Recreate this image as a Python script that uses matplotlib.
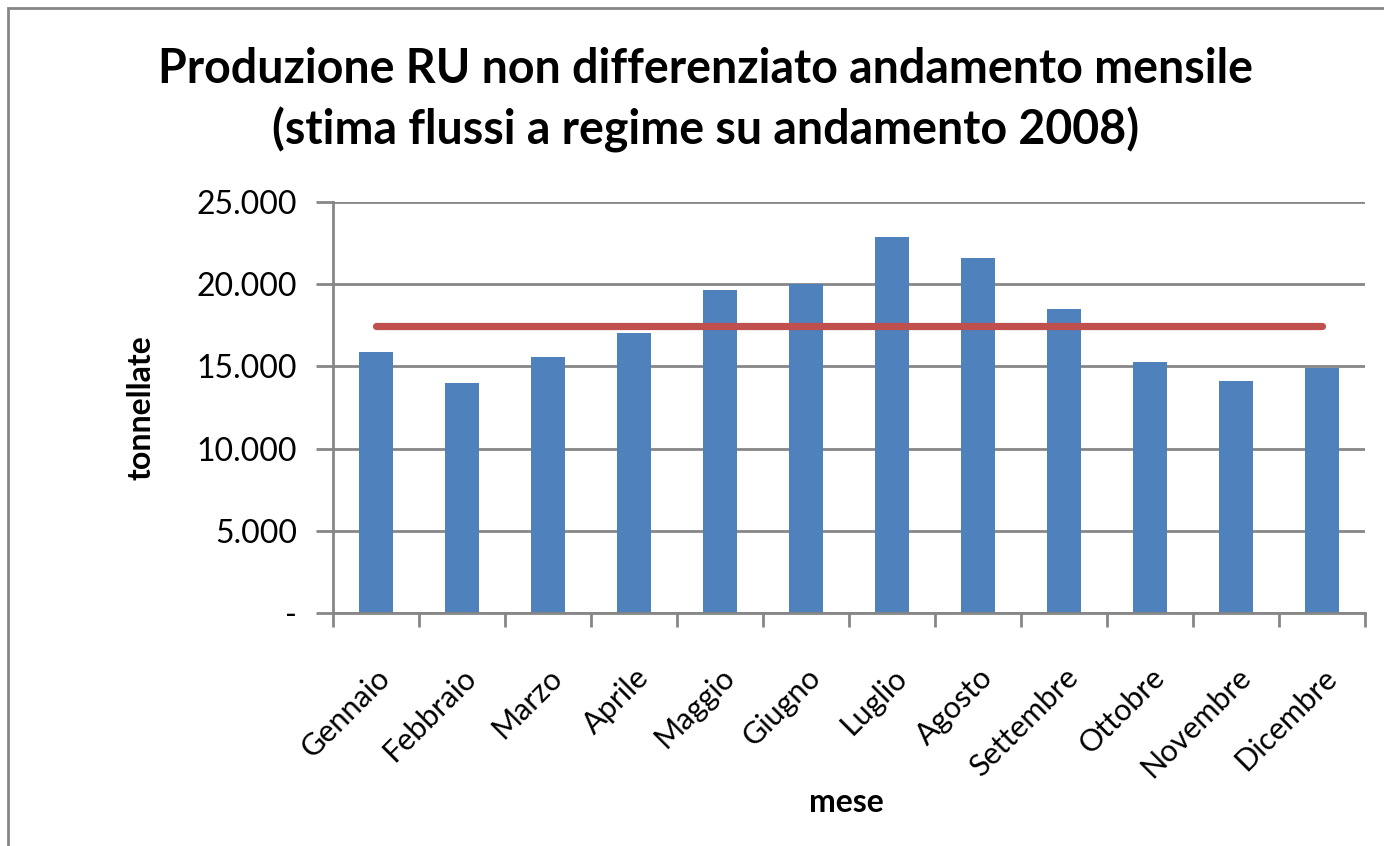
import numpy as np
import matplotlib.pyplot as plt
from matplotlib.ticker import FuncFormatter, MultipleLocator
from matplotlib.patches import Rectangle

plt.rcParams['font.family'] = ['Lato', 'DejaVu Sans']

# Data
mesi = ["Gennaio", "Febbraio", "Marzo", "Aprile", "Maggio", "Giugno",
        "Luglio", "Agosto", "Settembre", "Ottobre", "Novembre", "Dicembre"]
tonnellate = [15880, 13990, 15570, 17030, 19650, 20010,
              22870, 21590, 18490, 15270, 14110, 14900]
media = [17450] * 12

grid_col = "#868686"

fig = plt.figure(figsize=(13.84, 8.46), dpi=100)
ax = fig.add_axes([333 / 1384, 1 - 613 / 846, (1365 - 333) / 1384, (613 - 202) / 846])

x = np.arange(len(mesi))
ax.bar(x, tonnellate, width=0.4, color="#4F81BD", zorder=2)
ax.plot(x, media, color="#C0504D", linewidth=5.2, solid_capstyle="round", zorder=3)

ax.set_xlim(-0.5, 11.5)
ax.set_ylim(0, 25000)
ax.yaxis.set_major_locator(MultipleLocator(5000))

def fmt(v, pos):
    if v == 0:
        return "-"
    return f"{int(v):,}".replace(",", ".")

ax.yaxis.set_major_formatter(FuncFormatter(fmt))
ax.grid(axis="y", color=grid_col, linewidth=2, zorder=0)

ax.set_xticks(x)
ax.set_xticklabels(mesi, rotation=45, ha="right", rotation_mode="anchor")
ax.set_xticks(np.arange(-0.5, 12, 1), minor=True)
ax.tick_params(axis="x", which="major", length=0, labelsize=22, pad=36)
ax.tick_params(axis="x", which="minor", length=10, width=2, color=grid_col)
ax.tick_params(axis="y", length=12, width=2, color=grid_col, labelsize=23, pad=14)

for s in ["top", "right"]:
    ax.spines[s].set_visible(False)
for s in ["left", "bottom"]:
    ax.spines[s].set_color(grid_col)
    ax.spines[s].set_linewidth(2)

ax.set_ylabel("tonnellate", fontsize=23, fontweight="bold")
ax.yaxis.set_label_coords(-0.172, 0.5)
fig.text(846 / 1384, 1 - 802 / 846, "mese", fontsize=23, fontweight="bold",
         ha="center", va="center")

fig.text(706 / 1384, 1 - 100 / 846,
         "Produzione RU non differenziato andamento mensile\n(stima flussi a regime su andamento 2008)",
         fontsize=33.5, fontweight="bold", ha="center", va="center", linespacing=1.4)

# chart area border
fig.patches.append(Rectangle((8 / 1384, -0.1), 1.2, 1 - 8 / 846 + 0.1,
                             transform=fig.transFigure, fill=False,
                             edgecolor=grid_col, linewidth=2))

fig.savefig("out.png", dpi=100)
